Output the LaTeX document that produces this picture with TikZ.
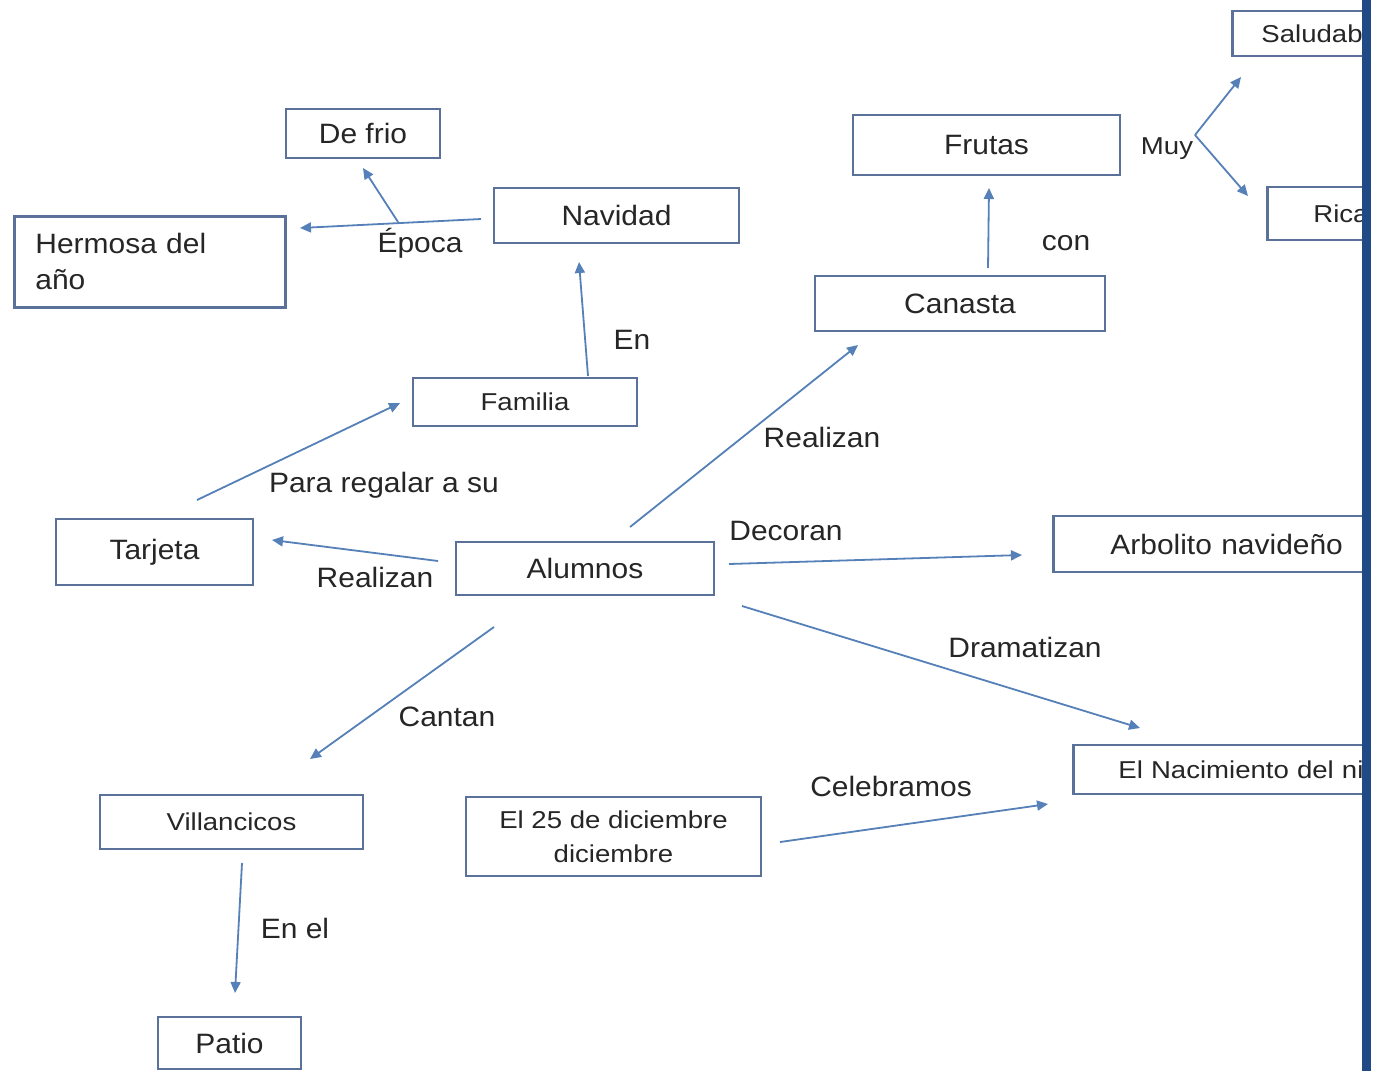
\documentclass[tikz,border=0pt]{standalone}
\usepackage{fontspec}
\usetikzlibrary{arrows.meta}
\newfontfamily\bigfam[FakeStretch=1.07]{Liberation Sans}
\newfontfamily\smallfam[FakeStretch=1.13]{Liberation Sans}
\newcommand{\bigtxt}{\bigfam\fontsize{14}{18}\selectfont}
\newcommand{\smalltxt}{\smallfam\fontsize{12.2}{17}\selectfont}
\definecolor{boxc}{HTML}{5A7299}
\definecolor{arrc}{HTML}{5580B8}
\definecolor{txtc}{HTML}{262626}
\definecolor{barc}{HTML}{1F4A85}
\tikzset{
  box/.style={draw=boxc, line width=1.4pt, fill=white, text=txtc, inner sep=0pt, font=\bigtxt},
  sbox/.style={box, font=\smalltxt},
  lbl/.style={text=txtc, inner sep=0pt, font=\bigtxt},
  slbl/.style={lbl, font=\smalltxt},
  arr/.style={draw=arrc, line width=0.9pt, -{Triangle[length=5.5pt,width=5pt]}},
  ln/.style={draw=arrc, line width=0.9pt}
}
\begin{document}
\begin{tikzpicture}[x=0.5pt,y=-0.5pt]
\useasboundingbox (0,0) rectangle (1379,1071);
\fill[white] (0,0) rectangle (1379,1071);
\begin{scope}
\clip (0,0) rectangle (1362,1071);
% boxes
\node[box, minimum width=77pt, minimum height=24.5pt] (defrio) at (363,133.5) {De frio};
\node[box, anchor=north west, text width=114.5pt, align=left, inner xsep=10.5pt, minimum height=45.5pt] (hermosa) at (13,215) {Hermosa del\\año};
\node[box, minimum width=122.5pt, minimum height=27.5pt] (navidad) at (616.5,215.5) {Navidad};
\node[box, minimum width=133.5pt, minimum height=30pt] (frutas) at (986.5,145) {Frutas};
\node[sbox, anchor=west, text width=65.5pt, align=left, inner xsep=14.5pt, minimum height=22.5pt] (saludab) at (1231,33.5) {Saludab};
\node[sbox, anchor=west, text width=60pt, align=left, inner xsep=23pt, minimum height=26.5pt] (rica) at (1266,213.5) {Rica};
\node[box, minimum width=145pt, minimum height=27.5pt] (canasta) at (960,303.5) {Canasta};
\node[sbox, minimum width=112pt, minimum height=24pt] (familia) at (525,402) {Familia};
\node[box, minimum width=98.5pt, minimum height=33pt] (tarjeta) at (154.5,552) {Tarjeta};
\node[box, minimum width=129pt, minimum height=26.5pt] (alumnos) at (585,568.5) {Alumnos};
\node[box, anchor=west, text width=125pt, align=left, inner xsep=28.5pt, minimum height=28pt] (arbolito) at (1052,544) {Arbolito navideño};
\node[sbox, minimum width=131.5pt, minimum height=27pt] (villancicos) at (231.5,822) {Villancicos};
\node[sbox, minimum width=147.5pt, minimum height=39.5pt, align=center] (dic) at (613.5,836.5) {El 25 de diciembre\\diciembre};
\node[sbox, anchor=west, text width=135pt, align=left, inner xsep=22.5pt, minimum height=24.5pt] (nacimiento) at (1072,769.5) {El Nacimiento del ni};
\node[box, minimum width=71.5pt, minimum height=26pt] (patio) at (229.5,1043) {Patio};
% connector end points
\coordinate (a1s) at (481,219); \coordinate (a1e) at (300,228);
\coordinate (a2s) at (398,222); \coordinate (a2e) at (363,168);
\coordinate (a3s) at (588,376); \coordinate (a3e) at (579,262);
\coordinate (a4s) at (197,500); \coordinate (a4e) at (400,403);
\coordinate (a5s) at (438,561); \coordinate (a5e) at (272,540);
\coordinate (a6s) at (630,527); \coordinate (a6e) at (858,345);
\coordinate (a7s) at (988,268); \coordinate (a7e) at (989,188);
\coordinate (muyp) at (1195,135); \coordinate (a8e) at (1241,77); \coordinate (a9e) at (1248,196);
\coordinate (a10s) at (729,564); \coordinate (a10e) at (1022,555);
\coordinate (a11s) at (742,606); \coordinate (a11e) at (1140,728);
\coordinate (a12s) at (494,627); \coordinate (a12e) at (310,759);
\coordinate (a13s) at (242,863); \coordinate (a13e) at (235,993);
\coordinate (a14s) at (780,842); \coordinate (a14e) at (1048,804);
% connectors
\draw[arr] (a1s) -- (a1e);
\draw[arr] (a2s) -- (a2e);
\draw[arr] (a3s) -- (a3e);
\draw[arr] (a4s) -- (a4e);
\draw[arr] (a5s) -- (a5e);
\draw[arr] (a6s) -- (a6e);
\draw[arr] (a7s) -- (a7e);
\draw[arr] (muyp) -- (a8e);
\draw[arr] (muyp) -- (a9e);
\draw[arr] (a10s) -- (a10e);
\draw[arr] (a11s) -- (a11e);
\draw[arr] (a12s) -- (a12e);
\draw[arr] (a13s) -- (a13e);
\draw[arr] (a14s) -- (a14e);
% labels
\node[lbl] (l1) at (420,243) {Época};
\node[lbl] (l2) at (632,340) {En};
\node[lbl] (l3) at (384,485) {Para regalar a su};
\node[lbl] (l4) at (375,577) {Realizan};
\node[lbl] (l5) at (822,437) {Realizan};
\node[lbl] (l6) at (1066,243) {con};
\node[slbl] (l7) at (1167,149) {Muy};
\node[lbl] (l8) at (786,531) {Decoran};
\node[lbl] (l9) at (1025,647) {Dramatizan};
\node[lbl] (l10) at (447,717) {Cantan};
\node[lbl] (l11) at (295,928) {En el};
\node[lbl] (l12) at (891,786) {Celebramos};
\end{scope}
\fill[barc] (1362,0) rectangle (1371,1071);
\end{tikzpicture}
\end{document}
